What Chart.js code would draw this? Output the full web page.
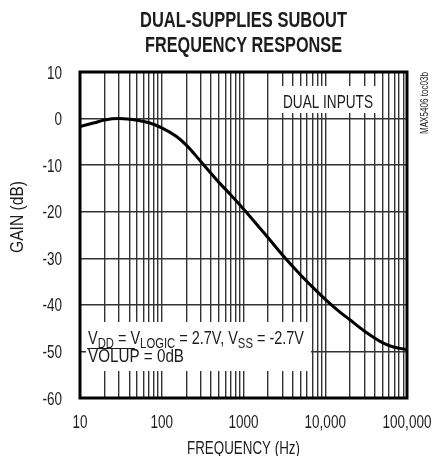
<!DOCTYPE html>
<html lang="en">
<head>
<meta charset="UTF-8" />
<title>Dual-Supplies SUBOUT Frequency Response</title>
<script src="https://cdn.jsdelivr.net/npm/chart.js@4.4.0/dist/chart.umd.min.js"></script>
<style>
  html, body { margin: 0; padding: 0; background: #fff; }
</style>
</head>
<body>
<canvas id="chart" width="435" height="456"></canvas>
<script>
const freqHz = [10, 15, 20, 30, 50, 70, 100, 150, 200, 300, 500, 700, 1000, 2000, 3000, 5000, 7000, 10000, 15000, 20000, 30000, 50000, 70000, 100000];
const gainDb = [-1.7, -0.9, -0.3, 0, -0.35, -0.9, -2.0, -3.8, -5.7, -9.2, -13.7, -16.4, -19.4, -25.6, -29.3, -33.6, -36.2, -38.8, -41.5, -43.2, -45.6, -48.1, -49.1, -49.6];
const decadeTicks = [10, 100, 1000, 10000, 100000];
const decadeLabels = ['10', '100', '1000', '10,000', '100,000'];

const FONT = "'Liberation Sans', Arial, sans-serif";
const INK = '#1c1c1c';
const SQUEEZE = 0.75; // the original uses a condensed face

// draw text made of runs (some subscript), squeezed horizontally
function drawRuns(ctx, runs, x, y, size, opts) {
  opts = opts || {};
  ctx.save();
  const fontFor = r => (r.bold ? 'bold ' : '') + (r.sub ? size * 0.78 : size) + 'px ' + FONT;
  let total = 0;
  const widths = runs.map(r => {
    ctx.font = fontFor(r);
    const w = ctx.measureText(r.t).width;
    total += w;
    return w;
  });
  const sx = opts.width ? opts.width / total : (opts.sx || SQUEEZE);
  const shown = total * sx;
  let start = x;
  if (opts.align === 'center') start = x - shown / 2;
  if (opts.align === 'right') start = x - shown;
  ctx.translate(start, y);
  ctx.scale(sx, 1);
  ctx.textAlign = 'left';
  ctx.textBaseline = 'alphabetic';
  ctx.fillStyle = INK;
  let cx = 0;
  runs.forEach((r, i) => {
    ctx.font = fontFor(r);
    ctx.fillText(r.t, cx, r.sub ? size * 0.2 : 0);
    cx += widths[i];
  });
  ctx.restore();
  return shown;
}

const decor = {
  id: 'decor',
  beforeDatasetsDraw(chart) {
    const ctx = chart.ctx;
    const a = chart.chartArea;
    ctx.save();
    ctx.fillStyle = '#fff';
    ctx.fillRect(a.left + 200, a.top + 14, 98, 27);
    ctx.fillRect(a.left + 6, a.top + 250, 225, 49);
    ctx.restore();

    drawRuns(ctx, [{ t: 'DUAL INPUTS' }], a.left + 203, a.top + 36, 19, { width: 90 });

    drawRuns(ctx, [
      { t: 'V' }, { t: 'DD', sub: true }, { t: ' = V' }, { t: 'LOGIC', sub: true },
      { t: ' = 2.7V, V' }, { t: 'SS', sub: true }, { t: ' = -2.7V' }
    ], a.left + 8, a.top + 272, 18.5, { width: 216 });
    drawRuns(ctx, [{ t: 'VOLUP = 0dB' }], a.left + 8, a.top + 290, 18.5, { width: 96 });
    ctx.save();
    ctx.strokeStyle = INK;
    ctx.lineWidth = 1.2;
    ctx.beginPath();
    ctx.moveTo(a.left + 7, a.top + 276.5);
    ctx.lineTo(a.left + 55, a.top + 276.5);
    ctx.stroke();
    ctx.restore();
  },
  afterDatasetsDraw(chart) {
    const ctx = chart.ctx;
    const a = chart.chartArea;
    ctx.save();
    ctx.strokeStyle = '#000';
    ctx.lineWidth = 3;
    ctx.strokeRect(a.left, a.top, a.right - a.left, a.bottom - a.top);
    ctx.restore();
  },
  afterDraw(chart) {
    const ctx = chart.ctx;
    const a = chart.chartArea;
    const xs = chart.scales.x;
    const ys = chart.scales.y;
    const cx = (a.left + a.right) / 2;

    // title
    drawRuns(ctx, [{ t: 'DUAL-SUPPLIES SUBOUT', bold: true }], cx, 27, 22, { width: 207, align: 'center' });
    drawRuns(ctx, [{ t: 'FREQUENCY RESPONSE', bold: true }], cx, 52, 22, { width: 197, align: 'center' });

    // tick labels
    xs.ticks.forEach(t => {
      if (t.label) drawRuns(ctx, [{ t: t.label }], xs.getPixelForValue(t.value), a.bottom + 30, 18, { align: 'center' });
    });
    ys.ticks.forEach(t => {
      drawRuns(ctx, [{ t: String(t.label) }], a.left - 18, ys.getPixelForValue(t.value) + 6.5, 18, { align: 'right' });
    });

    // axis titles
    drawRuns(ctx, [{ t: 'FREQUENCY (Hz)' }], cx, 454, 18, { width: 113, align: 'center' });
    ctx.save();
    ctx.translate(23, (a.top + a.bottom) / 2 - 18);
    ctx.rotate(-Math.PI / 2);
    drawRuns(ctx, [{ t: 'GAIN (dB)' }], 0, 0, 18, { width: 72, align: 'center' });
    ctx.restore();

    // part number on the right
    ctx.save();
    ctx.translate(a.right + 21, a.top + 31);
    ctx.rotate(-Math.PI / 2);
    drawRuns(ctx, [{ t: 'MAX5406 toc03b' }], 0, 0, 10, { width: 62, align: 'center' });
    ctx.restore();
  }
};

new Chart(document.getElementById('chart'), {
  type: 'line',
  data: {
    datasets: [{
      data: freqHz.map((f, i) => ({ x: f, y: gainDb[i] })),
      borderColor: '#000',
      borderWidth: 3,
      pointRadius: 0,
      cubicInterpolationMode: 'monotone',
      fill: false
    }]
  },
  options: {
    responsive: false,
    animation: false,
    layout: { padding: { top: 72, right: 28, left: 0, bottom: 0 } },
    plugins: {
      legend: { display: false },
      title: { display: false },
      tooltip: { enabled: false }
    },
    scales: {
      x: {
        type: 'logarithmic',
        min: 10,
        max: 100000,
        afterFit(scale) {
          scale.height = 58;
          scale.paddingLeft = 0;
          scale.paddingRight = 0;
        },
        afterBuildTicks(scale) {
          const ticks = [];
          for (let d = 10; d < 100000; d *= 10) {
            for (let m = 1; m < 10; m++) ticks.push({ value: d * m });
          }
          ticks.push({ value: 100000 });
          scale.ticks = ticks;
        },
        ticks: {
          display: false,
          autoSkip: false,
          callback(value) {
            const i = decadeTicks.indexOf(value);
            return i >= 0 ? decadeLabels[i] : '';
          }
        },
        grid: { color: '#333', lineWidth: 1.4, drawTicks: false },
        border: { display: false }
      },
      y: {
        min: -60,
        max: 10,
        afterFit(scale) {
          scale.width = 80;
          scale.paddingTop = 0;
          scale.paddingBottom = 0;
        },
        ticks: { display: false, stepSize: 10 },
        grid: { color: '#333', lineWidth: 1.4, drawTicks: false },
        border: { display: false }
      }
    }
  },
  plugins: [decor]
});
</script>
</body>
</html>
